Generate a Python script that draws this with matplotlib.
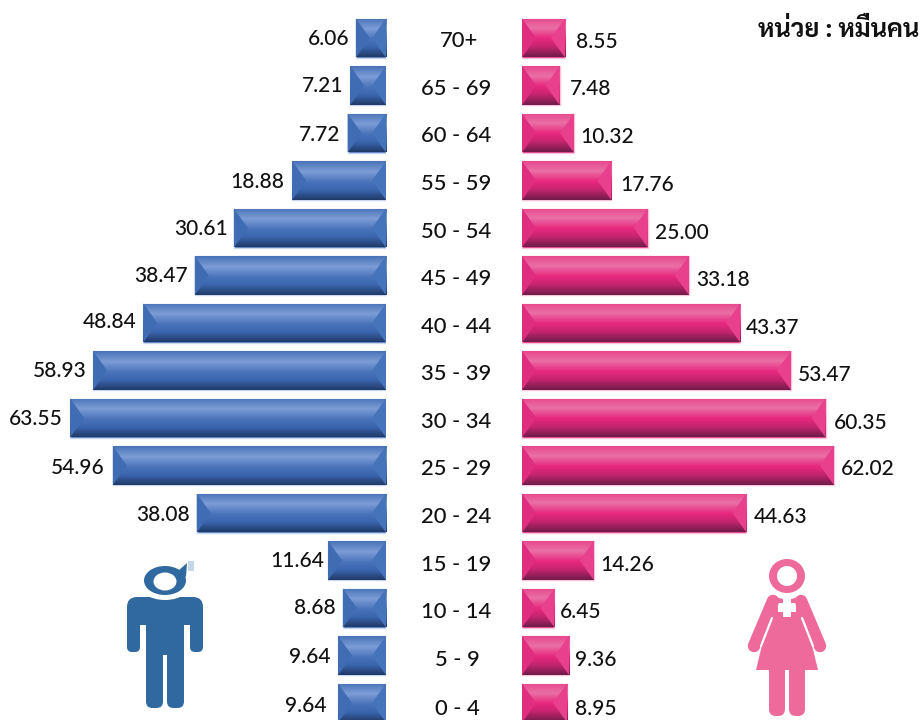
import logging
import numpy as np
import matplotlib
matplotlib.use("Agg")
import matplotlib.pyplot as plt
from matplotlib.colors import LinearSegmentedColormap
from matplotlib.patches import Ellipse, FancyBboxPatch, Rectangle, Polygon
from matplotlib.lines import Line2D

logging.getLogger("matplotlib.font_manager").setLevel(logging.ERROR)

# ---- data -------------------------------------------------------------
age_groups = ["70+", "65 - 69", "60 - 64", "55 - 59", "50 - 54", "45 - 49", "40 - 44",
              "35 - 39", "30 - 34", "25 - 29", "20 - 24", "15 - 19", "10 - 14", "5 - 9", "0 - 4"]
male = [6.06, 7.21, 7.72, 18.88, 30.61, 38.47, 48.84, 58.93, 63.55, 54.96, 38.08, 11.64, 8.68, 9.64, 9.64]
female = [8.55, 7.48, 10.32, 17.76, 25.00, 33.18, 43.37, 53.47, 60.35, 62.02, 44.63, 14.26, 6.45, 9.36, 8.95]
unit_label = "หน่วย : หมื่นคน"

# ---- label nudges (pixels) ---------------------------------------------
male_gap = [6, 7, 7, 8, 6, 7, 7, 7, 7, 8, 7, 4, 7, 8, 12]
male_dy = [-1, -1.5, 0, -.5, -1, -1.5, -3, -1.5, -1, .5, 0, -1.5, -2, -.5, 1]
female_gap = [11, 10, 6, 9, 7, 7, 6, 7, 8, 7, 7, 7, 5, 6, 8]
female_dy = [2, 1.5, 2, 2.5, 3, 2.5, 3, 2.5, 3, 1.5, 2, 2.5, 2, 2.5, 4]
cat_dy = [1, 1.5, 1, 1.5, 2, 1.5, 2, 1.5, 2, 1.5, 2, 2.5, 2, 2.5, 4]
cat_dx = [3, 0, 0, 0, 0, 0, 0, 0, 0, 0, 0, 0, 0, 1, 1]

W, H = 922, 720
NUM_FONT = "Lato"
NUM_WEIGHT = 500
FS = 15.0
ROW0, ROWSTEP = 38.0, 47.5
BAR_H = 39 / ROWSTEP
BEVEL_PX = 14

fig = plt.figure(figsize=(W / 100, H / 100), dpi=100, facecolor="white")
axL = fig.add_axes([0, 0, 386 / W, 1])
axR = fig.add_axes([522 / W, 0, (W - 522) / W, 1])
ylim = ((H - ROW0) / ROWSTEP, -ROW0 / ROWSTEP)

blue_cmap = LinearSegmentedColormap.from_list("b", [(0, "#4a74b8"), (.27, "#7c9dd6"), (.55, "#4872ba"),
                                                    (.76, "#3a64ab"), (1, "#203a68")])
pink_cmap = LinearSegmentedColormap.from_list("p", [(0, "#e8488e"), (.25, "#ea70a6"), (.52, "#e8287f"),
                                                    (.74, "#c5246e"), (1, "#701c4a")])
grad = np.linspace(0, 1, 64)[:, None]


def draw_side(ax, vals, cmap, edge, near, far, pxunit):
    bars = ax.barh(range(len(vals)), vals, height=BAR_H, color=near, edgecolor=edge, linewidth=1, zorder=2)
    for rect, v in zip(bars, vals):
        y0, y1 = rect.get_y(), rect.get_y() + rect.get_height()
        ym = (y0 + y1) / 2
        b = min(BEVEL_PX / pxunit, v / 2)
        im = ax.imshow(grad, cmap=cmap, extent=(0, v, y1, y0), aspect="auto", zorder=3, interpolation="bilinear")
        im.set_clip_path(rect)
        # end facets of the bevel, derived from the bar's own geometry
        ax.add_patch(Polygon([(0, y0), (b, ym), (0, y1)], closed=True, fc=near, ec="none", zorder=4))
        ax.add_patch(Polygon([(v, y0), (v - b, ym), (v, y1)], closed=True, fc=far, ec="none", zorder=4))
    ax.set_ylim(*ylim)
    ax.axis("off")


draw_side(axL, male, blue_cmap, "#c9d6ec", "#4674bb", "#3f6cb3", 4.97)
draw_side(axR, female, pink_cmap, "#f6c4da", "#df2d80", "#e8408c", 5.03)
axL.set_xlim(386 / 4.97, 0)
axR.set_xlim(0, (W - 522) / 5.03)

for i, v in enumerate(male):
    axL.annotate(f"{v:.2f}", (v, i), xytext=(-male_gap[i], -male_dy[i]), textcoords="offset pixels",
                 ha="right", va="center_baseline", family=NUM_FONT, fontsize=FS, fontweight=NUM_WEIGHT,
                 color="#111111", zorder=6)
for i, v in enumerate(female):
    axR.annotate(f"{v:.2f}", (v, i), xytext=(female_gap[i], -female_dy[i]), textcoords="offset pixels",
                 ha="left", va="center_baseline", family=NUM_FONT, fontsize=FS, fontweight=NUM_WEIGHT,
                 color="#111111", zorder=6)

# ---- overlay in pixel coordinates for text and pictograms ---------------
ov = fig.add_axes([0, 0, 1, 1], zorder=5)
ov.set_xlim(0, W)
ov.set_ylim(H, 0)
ov.axis("off")
ov.patch.set_alpha(0)

for i, lab in enumerate(age_groups):
    ov.text(456 + cat_dx[i], ROW0 + ROWSTEP * i + cat_dy[i], lab, ha="center", va="center_baseline",
            family=NUM_FONT, fontsize=FS + 0.8, fontweight=NUM_WEIGHT, color="#111111")

ov.text(919, 31, unit_label, ha="right", va="center", fontsize=18.3, fontweight="bold", color="#111111",
        family=["Sarabun", "Anuphan", "Bai Jamjuree", "Noto Sans Thai", "DejaVu Sans"])


def rbox(x0, y0, x1, y1, r, color):
    ov.add_patch(FancyBboxPatch((x0 + r, y0 + r), x1 - x0 - 2 * r, y1 - y0 - 2 * r,
                                boxstyle=f"round,pad={r},rounding_size={r}", fc=color, ec="none"))


# man
MC = "#2f699f"
rbox(127, 597, 203, 625, 10, MC)
rbox(127, 605, 140, 652, 5, MC)
rbox(190, 605, 203, 652, 5, MC)
ov.add_patch(Rectangle((146, 605), 38, 50, fc=MC, ec="none"))
rbox(146, 640, 163, 708, 6.5, MC)
rbox(167, 640, 184, 708, 6.5, MC)
ov.add_patch(Ellipse((165, 578), 60, 44, fc="white", ec="none"))
ov.add_patch(Polygon([(178, 571), (187, 563), (186, 577)], fc=MC, ec="none"))
ov.add_patch(Ellipse((165, 580.5), 42, 29, fc=MC, ec="none"))
ov.add_patch(Ellipse((165, 581.5), 23, 18, fc="white", ec="none"))
ov.add_patch(Rectangle((188, 561), 6, 10, fc="#c5d8e8", ec="none"))

# woman
FC = "#ee6a9a"
ov.add_patch(Ellipse((787, 576), 36, 34, fc=FC, ec="none"))
ov.add_patch(Ellipse((787, 576), 20, 20, fc="white", ec="none"))
ov.add_patch(Polygon([(775, 597), (787, 600), (799, 597), (804, 612), (818, 670), (756, 670), (770, 612)],
                     fc=FC, ec="none"))
arm_lw = 12.5 * 72 / 100
for xs, ys in (([773, 754], [601, 646]), ([801, 820], [601, 646])):
    ov.add_line(Line2D(xs, ys, color=FC, lw=arm_lw, solid_capstyle="round"))
for xs, ys in (([772, 761], [618, 646]), ([802, 813], [618, 646])):
    ov.add_line(Line2D(xs, ys, color="white", lw=1.6, solid_capstyle="round"))
rbox(769, 660, 785, 716, 7, FC)
rbox(789, 660, 805, 716, 7, FC)
ov.add_patch(Rectangle((778, 603), 18, 9, fc="white", ec="none"))
ov.add_patch(Rectangle((783, 599), 8, 18, fc="white", ec="none"))

fig.savefig("out.png", dpi=100, facecolor="white")
